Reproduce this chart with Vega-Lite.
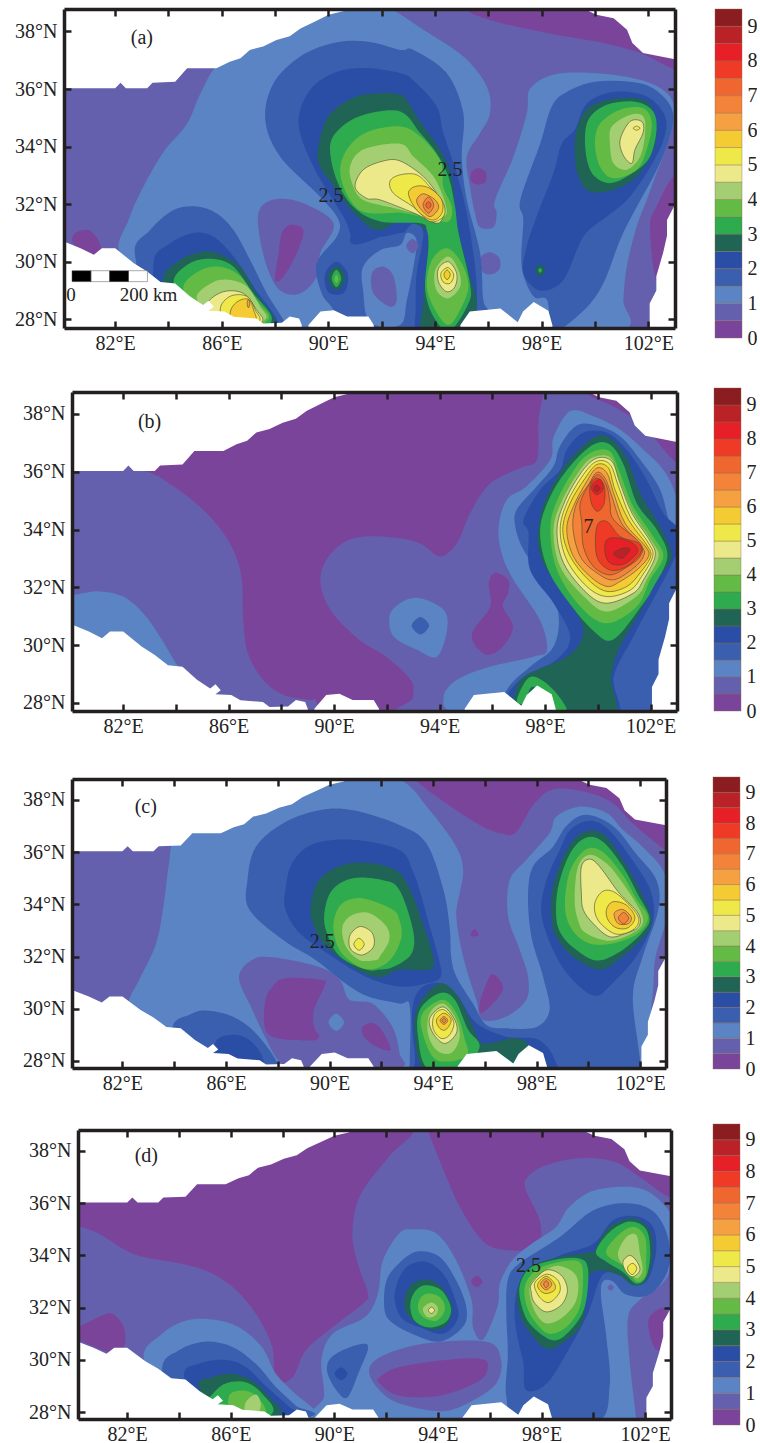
{"$schema":"https://vega.github.io/schema/vega-lite/v6.json","background":"white","padding":{"left":0,"top":7,"right":0,"bottom":0},"bounds":"full","spacing":0,
"config":{"view":{"stroke":null},"range":{"ordinal":["#7a449b","#6560ad","#5a84c4","#3a5fae","#2a4ea5","#1f6455","#2eab4e","#63bb46","#a3cf72","#ece98b","#eee848","#f5cb33","#f5a142","#f4833a","#f0662f","#ef3b26","#e71f26","#bb2227","#8b1c20"]},"axis":{"grid":false,"title":null,"domainColor":"#231f20","domainWidth":3.5,"tickColor":"#231f20","tickWidth":2.5,"tickSize":-7,"labelFont":"Liberation Serif","labelFontSize":20,"labelColor":"#222222","labelPadding":14,"labelBound":false,"labelFlush":false,"labelOverlap":false}},
"datasets":{
"mask":[
{"id":"nw","p":[[79,36.03],[80.1,36.03],[82,36.03],[82.2,36.22],[82.4,36.03],[83.2,36.03],[83.4,36.22],[84.25,36.25],[84.7,36.72],[85.8,36.72],[86.3,36.95],[86.7,37.07],[87.05,37.36],[87.55,37.48],[88.05,37.7],[88.55,37.83],[88.95,38.1],[89.5,38.35],[90,38.58],[90.55,38.7],[90.7,38.8],[90.7,39.5],[79,39.5]]},
{"id":"sw","p":[[79,30.8],[80.1,30.7],[80.7,30.47],[81.2,30.24],[81.5,30.47],[82,30.47],[82.7,29.95],[83.2,29.66],[83.7,29.3],[84.25,29.25],[84.8,28.8],[85.3,28.5],[85.5,28.65],[85.7,28.44],[85.5,28.3],[86.1,28.27],[86.45,28.09],[87.3,28.03],[87.55,27.86],[88.25,27.88],[88.55,28.1],[88.9,28.03],[89,27.8],[89,27],[79,27]]},
{"id":"h2","p":[[89.25,27.8],[89.7,28.27],[90.2,28.32],[90.7,28.1],[91.5,28.1],[91.7,27.8],[91.7,27],[89.25,27]]},
{"id":"h3","p":[[94.95,27.8],[95.3,28.27],[96.45,28.38],[97.1,27.9],[97.3,28.27],[97.7,28.6],[98.25,28.3],[98.4,27.8],[98.4,27],[94.95,27]]},
{"id":"ne","p":[[99.55,38.8],[100.05,38.58],[100.7,38.46],[101.2,38.06],[101.4,37.6],[101.8,37.25],[102.95,37.04],[104,37],[104,39.5],[99.55,39.5]]},
{"id":"e","p":[[104,31.9],[102.95,31.9],[102.7,31.45],[102.7,30.9],[102.55,30.3],[102.3,29.5],[102.3,29],[102.05,28.55],[102.05,27],[104,27]]}],
"bands":[{"lv":0,"lo":0,"hi":0.5},{"lv":1,"lo":0.5,"hi":1},{"lv":2,"lo":1,"hi":1.5},{"lv":3,"lo":1.5,"hi":2},{"lv":4,"lo":2,"hi":2.5},{"lv":5,"lo":2.5,"hi":3},{"lv":6,"lo":3,"hi":3.5},{"lv":7,"lo":3.5,"hi":4},{"lv":8,"lo":4,"hi":4.5},{"lv":9,"lo":4.5,"hi":5},{"lv":10,"lo":5,"hi":5.5},{"lv":11,"lo":5.5,"hi":6},{"lv":12,"lo":6,"hi":6.5},{"lv":13,"lo":6.5,"hi":7},{"lv":14,"lo":7,"hi":7.5},{"lv":15,"lo":7.5,"hi":8},{"lv":16,"lo":8,"hi":8.5},{"lv":17,"lo":8.5,"hi":9},{"lv":18,"lo":9,"hi":9.5}],
"a":[
{"id":1,"lv":1,"p":[[79,40],[104,40],[104,27],[79,27]]},
{"id":2,"lv":0,"p":[[95.05,38.85],[96.05,38.4],[98.2,37.95],[100.05,37.65],[101.7,37.25],[102.95,36.7],[103.8,36.7],[104,39.5],[95,39.5]]},
{"id":3,"lv":0,"p":[[80.5,31],[81,31.1],[81.4,30.7],[81.5,30.2],[81.2,30.1],[80.7,30.4],[80.4,30.7]]},
{"id":4,"lv":0,"p":[[103,33],[102.3,31.9],[102.06,31.2],[102.3,29.37],[102.69,30.76],[103,31.7],[103.5,32.3]]},
{"id":5,"lv":2,"p":[[85.8,36.8],[86.7,37.2],[88,37.8],[89.5,38.5],[91,39.2],[92.3,38.8],[93.56,38.06],[95.06,37.13],[95.94,36.09],[96.06,35.16],[95.69,34.47],[95.19,33.65],[95.31,32.6],[95.5,31.68],[95.69,31.2],[96.19,31.2],[96.31,31.68],[96.25,32.15],[96.94,33.65],[97.44,35.16],[97.56,36],[98.44,36.5],[100.06,36.55],[101.69,36.32],[102.69,35.86],[103,35.16],[102.69,34],[102.31,33.08],[101.94,32.15],[101.56,31.22],[101.19,29.83],[101.06,28.67],[101,27.6],[96.5,27.2],[89,27.2],[84,28.5],[82.2,30.2],[82.5,31.45],[83.05,32.6],[83.8,33.8],[84.7,34.8],[85.2,35.85]]},
{"id":6,"lv":1,"p":[[88.06,32.18],[89.06,32.03],[90.19,31.33],[89.69,30.3],[89.56,29.48],[88.94,28.9],[88.19,29],[87.69,29.83],[87.38,31.1],[87.44,31.86]]},
{"id":7,"lv":0,"p":[[88.56,31.28],[89.06,31.1],[88.81,30.3],[88.31,29.48],[88,29.37],[88.13,30.3],[88.25,31]]},
{"id":8,"lv":0,"p":[[95.63,33.25],[95.9,33.1],[95.9,32.8],[95.63,32.68],[95.36,32.8],[95.36,33.1]]},
{"id":9,"lv":1,"p":[[96.06,30.33],[96.4,30.15],[96.44,29.8],[96.2,29.58],[95.85,29.6],[95.68,29.9],[95.75,30.2]]},
{"id":10,"lv":3,"p":[[87.63,34.93],[87.94,36.2],[88.94,37.13],[90.19,37.6],[91.44,37.65],[92.69,37.36],[93.19,37.36],[94.44,36.55],[95.06,35.16],[95,33.65],[95.19,32.15],[95.69,30.3],[95.81,28.67],[96.06,28.2],[96,27.3],[90.5,27.3],[90.2,28.3],[89.75,28.9],[89.56,29.95],[90.31,30.87],[90.38,31.45],[89.69,32.26],[88.19,33.65]]},
{"id":11,"lv":4,"p":[[88.88,34.81],[89.31,35.97],[90.31,36.6],[91.44,36.73],[92.69,36.55],[93.19,36.3],[94.06,35.4],[94.31,34.47],[94.81,33.08],[95.19,31.68],[95.5,29.83],[95.56,28.44],[95.3,27.5],[93.2,27.5],[93.3,29.5],[93.5,30.9],[92.7,31],[91,30.6],[90.81,31],[90.56,31.57],[89.44,33.3]]},
{"id":12,"lv":3,"p":[[90.94,30.18],[91.81,30.82],[92.69,30.93],[93.19,31.34],[93.56,31],[93.3,29.8],[93.25,28],[93,27.3],[91,27.3],[90.94,28]]},
{"id":13,"lv":2,"p":[[91.3,29.83],[91.94,30.4],[92.69,30.58],[92.94,31],[93.3,30.76],[93.19,29.83],[92.94,28.67],[92.69,27.8],[91.56,27.9],[91.3,29]]},
{"id":14,"lv":1,"p":[[91.63,29.6],[92.06,29.83],[92.44,29.5],[92.56,28.67],[92.3,28.44],[91.69,28.9]]},
{"id":15,"lv":1,"p":[[93.15,30.8],[93.38,30.55],[93.15,30.3],[92.92,30.55]]},
{"id":16,"lv":4,"p":[[90.3,30],[90.72,29.6],[90.65,29],[90.3,28.85],[89.95,29],[89.88,29.6]]},
{"id":17,"lv":5,"p":[[90.3,29.85],[90.63,29.45],[90.3,29],[89.97,29.45]]},
{"id":18,"lv":6,"p":[[90.3,29.72],[90.48,29.42],[90.3,29.12],[90.12,29.42]]},
{"id":19,"lv":7,"p":[[90.3,29.55],[90.38,29.4],[90.3,29.25],[90.22,29.4]]},
{"id":20,"lv":5,"p":[[89.63,34],[90,35.05],[90.94,35.7],[92.06,35.86],[92.69,35.8],[92.94,35.6],[93.56,34.7],[94.19,33.9],[94.63,32.96],[94.75,31.9],[94.88,31],[95.31,29.5],[95.56,28.44],[95,27.6],[93.56,27.6],[93.56,28.67],[93.75,30.76],[93.56,31.2],[92.69,31.4],[91.81,31.1],[90.94,31.7],[90.31,32.5],[89.69,33.3]]},
{"id":21,"lv":6,"p":[[90.06,34],[90.44,34.64],[91.31,35.1],[92.69,35.22],[93.44,34.47],[94.06,33.77],[94.5,32.96],[94.75,31.9],[94.88,31],[95.31,29.25],[95.25,28.55],[94.56,27.6],[94,28],[93.63,29],[93.75,30.5],[93.69,31.1],[93.44,31.34],[91.94,31.4],[90.94,31.9],[90.31,32.84]]},
{"id":22,"lv":7,"p":[[90.44,33.08],[90.69,33.9],[91.44,34.5],[92.69,34.7],[93.44,34.35],[94.2,33.5],[94.31,32.6],[94.63,31.9],[94.5,31.4],[93.8,31.5],[92.69,31.7],[91.44,31.7],[90.81,32.15]]},
{"id":23,"lv":8,"p":[[90.81,33.3],[91.31,33.9],[92.69,34.1],[93.19,33.65],[93.94,32.96],[94.38,32.03],[94.31,31.57],[93.19,31.7],[92.3,31.9],[91.31,32.15],[90.94,32.6]]},
{"id":24,"lv":9,"p":[[91,32.6],[91.31,33.2],[92.06,33.5],[92.69,33.5],[93.56,32.96],[94.13,32.26],[94.31,31.68],[94.06,31.34],[93.19,31.7],[91.94,32.15],[91.44,32.2]]},
{"id":25,"lv":10,"p":[[92.31,32.8],[92.69,33.02],[93.31,33.02],[93.81,32.6],[94.31,32.03],[94.31,31.57],[93.81,31.4],[93.19,31.9],[92.44,32.38]]},
{"id":26,"lv":11,"p":[[93,32.38],[93.31,32.63],[93.81,32.55],[94.25,32.15],[94.25,31.68],[93.88,31.45],[93.31,31.8]]},
{"id":27,"lv":12,"p":[[93.31,32.15],[93.56,32.36],[94,32.15],[94.13,31.86],[93.81,31.57],[93.44,31.86]]},
{"id":28,"lv":13,"p":[[93.75,32.25],[93.95,31.97],[93.75,31.69],[93.55,31.97]]},
{"id":29,"lv":14,"p":[[93.75,32.09],[93.85,31.97],[93.75,31.85],[93.65,31.97]]},
{"id":30,"lv":7,"p":[[94.44,30.47],[95,29.95],[95.25,29.14],[94.94,28.33],[94.5,27.8],[94,28.33],[93.69,29.14],[93.88,30.06]]},
{"id":31,"lv":8,"p":[[94.5,30.18],[94.88,29.7],[94.94,29.14],[94.5,28.73],[94.06,29],[94,29.7]]},
{"id":32,"lv":9,"p":[[94.5,30],[94.81,29.6],[94.75,29.14],[94.44,28.96],[94.13,29.3],[94.13,29.77]]},
{"id":33,"lv":10,"p":[[94.48,29.8],[94.7,29.54],[94.56,29.25],[94.3,29.3],[94.22,29.6]]},
{"id":34,"lv":11,"p":[[94.45,29.72],[94.57,29.55],[94.45,29.38],[94.33,29.55]]},
{"id":35,"lv":3,"p":[[82.75,30.18],[83.31,31.1],[84.19,31.8],[85.06,31.92],[85.81,31.68],[86.44,31.1],[87.06,30.06],[87.69,28.9],[88.3,28],[88.5,27.5],[84,27.5]]},
{"id":36,"lv":4,"p":[[83.44,29.95],[84.06,30.64],[84.94,31],[85.69,30.87],[86.44,30.18],[87.19,29.14],[88.06,28],[88,27.5],[84,28]]},
{"id":37,"lv":5,"p":[[83.8,29.37],[84.44,30.06],[85.19,30.33],[85.81,30.3],[86.69,29.83],[87.3,28.9],[88,27.9],[87,27.5],[84.5,28]]},
{"id":38,"lv":6,"p":[[84.19,29.25],[84.8,29.95],[85.69,30.1],[86.44,29.83],[87.19,28.9],[87.88,28],[87,27.5],[85,28]]},
{"id":39,"lv":7,"p":[[84.56,29.14],[85.19,29.7],[85.94,29.83],[86.69,29.5],[87.3,28.67],[87.75,28],[86.5,27.5],[85,28.3]]},
{"id":40,"lv":8,"p":[[85.06,28.8],[85.69,29.3],[86.31,29.37],[86.94,29.14],[87.44,28.44],[87.63,28],[86.5,27.5],[85.5,28.2]]},
{"id":41,"lv":9,"p":[[85.44,28.55],[86.06,28.96],[86.81,28.9],[87.3,28.33],[87.5,27.9],[86.5,27.5],[85.5,28]]},
{"id":42,"lv":10,"p":[[85.94,28.33],[86.31,28.8],[86.94,28.8],[87.25,28.33],[87.38,27.9],[86.3,27.5]]},
{"id":43,"lv":11,"p":[[86.31,28.2],[86.56,28.6],[87,28.7],[87.19,28.33],[87.25,27.9],[86.5,27.5]]},
{"id":44,"lv":12,"p":[[87,28.7],[87.05,28.55],[87,28.4],[86.95,28.55]]},
{"id":45,"lv":3,"p":[[98.38,35.4],[98.94,35.9],[100.06,36.26],[101.69,36.2],[102.56,35.74],[102.94,35.05],[102.69,34],[102.19,32.96],[101.56,31.9],[100.94,30.76],[100.31,29.25],[99.56,28.3],[98.44,27.6],[98.2,28.67],[97.69,28.8],[97.25,29.83],[97.31,31.45],[97.2,32.15],[97.94,34.1]]},
{"id":46,"lv":4,"p":[[99.25,34.6],[99.69,35.5],[100.69,35.9],[101.94,35.74],[102.63,35.05],[102.56,34.2],[101.94,33.08],[101.2,32.15],[100.44,31.57],[99.56,30.87],[98.81,29.37],[97.94,29],[97.31,29.6],[97.44,30.53],[97.81,31.57],[98.44,33.08],[98.75,34.1]]},
{"id":47,"lv":5,"p":[[97.94,29.9],[98.12,29.7],[97.94,29.5],[97.76,29.7]]},
{"id":48,"lv":6,"p":[[97.94,29.78],[98.01,29.7],[97.94,29.62],[97.87,29.7]]},
{"id":49,"lv":5,"p":[[99.25,33.65],[99.31,34.58],[99.81,35.4],[100.94,35.68],[101.94,35.57],[102.31,34.8],[102.19,33.9],[101.56,32.96],[100.69,32.5],[99.81,32.44],[99.38,32.96]]},
{"id":50,"lv":6,"p":[[99.63,34],[99.75,34.93],[100.44,35.45],[101.44,35.57],[102.13,35.28],[102.31,34.64],[102.06,33.65],[101.44,33.1],[100.56,32.73],[99.88,33.08]]},
{"id":51,"lv":7,"p":[[100,34.1],[100.19,34.8],[100.94,35.28],[101.81,35.33],[102.13,34.8],[101.94,33.9],[101.56,33.2],[100.69,32.9],[100.19,33.3]]},
{"id":52,"lv":8,"p":[[100.56,34.1],[100.63,34.7],[101.31,35.1],[101.81,35.05],[101.88,34.47],[101.69,33.65],[101.19,33.2],[100.69,33.42]]},
{"id":53,"lv":9,"p":[[100.94,34.23],[101.31,34.87],[101.75,34.87],[101.81,34.5],[101.5,33.9],[101.38,33.42],[101.06,33.7]]},
{"id":54,"lv":10,"p":[[101.56,34.71],[101.69,34.64],[101.56,34.57],[101.43,34.64]]}],
"b":[
{"id":1,"lv":0,"p":[[79,40],[104,40],[104,27],[79,27]]},
{"id":2,"lv":1,"p":[[79.5,36.5],[82.63,36.07],[83.9,35.5],[85.16,34.57],[86.04,33.53],[86.48,32.38],[86.55,30.87],[86.73,29.72],[87.3,28.8],[88.06,28.28],[89.07,28.1],[89.3,28.1],[89,27.3],[84,27.3],[79.5,27.3]]},
{"id":3,"lv":2,"p":[[80.13,31.74],[81.1,31.86],[82,31.68],[82.76,31.1],[83.39,30.3],[84,29.37],[84.4,28.8],[83,28],[79.5,29],[79.5,31.7]]},
{"id":4,"lv":1,"p":[[91.2,33.76],[92.48,33.7],[93.3,33.5],[94.03,33.07],[94.66,33.53],[95.16,34.57],[95.92,35.6],[97.06,36.13],[97.69,36.42],[97.75,37.8],[97.94,38.73],[98,39.5],[99.6,39.5],[99.64,38.7],[100.5,38.3],[101.4,37.8],[102.1,37.2],[103,36.3],[104,36],[104,27],[92.9,27.3],[93,28.2],[92.9,28.8],[91.97,29.6],[90.96,30.18],[89.95,31.1],[89.5,32.03],[89.64,32.84],[90.33,33.53]]},
{"id":5,"lv":0,"p":[[96.1,32.5],[96.6,32.26],[96.6,31.8],[96.4,31.34],[96.78,30.64],[96.4,29.95],[95.8,29.66],[95.29,30.07],[95.29,30.53],[95.92,31.34],[95.86,32.14]]},
{"id":6,"lv":2,"p":[[93.2,31.63],[94.15,31.22],[94.28,30.53],[93.9,29.6],[93.14,29.84],[92.26,30.3],[92.1,31],[92.5,31.45]]},
{"id":7,"lv":3,"p":[[93.27,30.97],[93.6,30.67],[93.27,30.37],[92.94,30.67]]},
{"id":8,"lv":2,"p":[[98.32,37.2],[98.95,38.1],[99.83,37.92],[100.84,37.46],[101.73,36.76],[102.48,36.07],[102.93,35.26],[103.3,34],[103.3,31],[103,27],[98,27],[94.66,27.6],[94.15,28.2],[94.66,28.8],[95.9,29.25],[97.56,29.6],[98.07,29.84],[97.8,30.87],[96.8,32.26],[96.35,33.18],[96.24,34.1],[96.55,35.03],[97.3,35.5],[98.2,36.42]]},
{"id":9,"lv":3,"p":[[98.57,36.9],[99.2,37.6],[99.96,37.6],[100.84,37.23],[101.6,36.42],[102.36,35.38],[102.74,34.2],[103.2,33.8],[103.2,31.1],[103,27],[96,27],[96.55,28.45],[97.43,29.25],[98.32,29.95],[98.5,31.1],[97.94,32.26],[97.18,33.3],[96.87,34.1],[96.93,34.7],[97.69,35.5],[98.32,36.2]]},
{"id":10,"lv":4,"p":[[98.82,36.76],[99.45,37.35],[100.34,37.35],[101.1,36.76],[101.85,35.72],[102.48,34.57],[103.2,33.8],[102.74,32.7],[102.23,31.8],[101.35,30.3],[100.6,28.9],[100.6,27.4],[96.8,27.4],[96.55,28.2],[97.2,28.9],[98.44,29.5],[98.95,30.3],[98.32,31.45],[97.43,32.6],[97.37,33.9],[97.18,34.34],[97.81,35.38],[98.57,36.07]]},
{"id":11,"lv":5,"p":[[97.75,34],[98,35],[98.82,36.3],[99.83,37.17],[100.46,37.17],[101.1,36.48],[101.6,35.26],[102.36,34.1],[102.8,33.07],[102.23,32.26],[101.73,31.34],[100.84,29.95],[100.5,28.9],[100.46,27.4],[96.8,27.4],[96.8,28.1],[97.18,28.9],[98.83,29.6],[99.45,30.4],[99.07,31.3],[98.07,32.6],[97.75,33.4]]},
{"id":12,"lv":6,"p":[[96.93,28.1],[97.3,28.8],[97.69,28.88],[98.32,28.45],[98.82,27.75],[98.3,27.6],[97.94,28.2],[97.5,28.56],[97.2,28]]},
{"id":13,"lv":6,"p":[[97.81,34],[98.2,35.15],[98.95,36.2],[99.83,36.94],[100.46,36.94],[100.97,36.25],[101.48,34.9],[102.23,34],[102.64,33.07],[102.1,32],[101.73,31.45],[100.6,30.2],[99.83,30.5],[98.82,31.57],[98.07,32.7]]},
{"id":14,"lv":7,"p":[[98.2,34],[98.45,35],[99.2,36.2],[99.83,36.7],[100.46,36.7],[100.84,35.95],[101.34,34.8],[102.1,33.76],[102.48,33.07],[101.98,32.26],[101.48,31.34],[100.34,30.76],[99.33,31.34],[98.45,32.6]]},
{"id":15,"lv":8,"p":[[98.32,34],[98.64,35],[99.33,36.07],[99.83,36.5],[100.46,36.5],[100.78,35.8],[101.29,34.66],[102.04,33.6],[102.3,33.07],[101.85,32.26],[101.48,31.7],[100.34,31.16],[99.45,31.7],[98.57,32.72]]},
{"id":16,"lv":9,"p":[[98.45,34],[98.76,35],[99.39,36],[99.96,36.47],[100.53,36.36],[100.84,35.6],[101.29,34.57],[101.98,33.6],[102.17,33.07],[101.73,32.26],[101.35,31.8],[100.34,31.45],[99.58,31.8],[98.7,32.84]]},
{"id":17,"lv":10,"p":[[98.57,34],[98.83,34.92],[99.45,35.9],[99.96,36.36],[100.46,36.25],[100.78,35.5],[101.22,34.46],[101.92,33.53],[102.08,33.07],[101.66,32.38],[101.22,31.9],[100.34,31.68],[99.58,32.03],[98.82,32.95]]},
{"id":18,"lv":11,"p":[[98.67,34],[98.95,34.92],[99.52,35.78],[99.96,36.25],[100.4,36.13],[100.65,35.38],[101.16,34.34],[101.85,33.47],[102,33.07],[101.6,32.5],[101.1,32.03],[100.34,31.86],[99.64,32.26],[98.95,33.07]]},
{"id":19,"lv":12,"p":[[98.82,34],[99.07,34.8],[99.58,35.67],[99.96,36.13],[100.34,35.96],[100.6,35.26],[101.03,34.22],[101.8,33.42],[101.92,33.07],[101.48,32.6],[100.84,32.2],[100.34,32.03],[99.7,32.38],[99.07,33.07]]},
{"id":20,"lv":13,"p":[[99.05,34.1],[99.2,34.92],[99.64,35.55],[99.96,35.98],[100.27,35.78],[100.53,35.15],[100.9,34.22],[101.66,33.42],[101.73,33.07],[101.35,32.66],[100.6,32.26],[99.96,32.5],[99.33,33.07]]},
{"id":21,"lv":14,"p":[[99.39,34.22],[99.33,34.92],[99.7,35.6],[100.02,35.9],[100.34,35.5],[100.46,34.92],[100.6,34.34],[101.6,33.53],[101.6,33.07],[101.1,32.7],[100.46,32.43],[99.83,32.72],[99.45,33.4]]},
{"id":22,"lv":15,"p":[[99.7,35.5],[99.96,35.78],[100.24,35.5],[100.24,34.92],[99.99,34.63],[99.75,34.92]]},
{"id":23,"lv":15,"p":[[99.96,34.1],[100.34,34.28],[100.84,33.76],[101.54,33.53],[101.62,33.18],[101.1,32.72],[100.46,32.6],[99.96,33.07]]},
{"id":24,"lv":16,"p":[[100.34,33.65],[100.84,33.7],[101.41,33.47],[101.48,33.18],[100.97,32.8],[100.46,32.84],[100.27,33.2]]},
{"id":25,"lv":16,"p":[[99.83,35.6],[100.1,35.73],[100.2,35.4],[99.96,35.2],[99.76,35.4]]},
{"id":26,"lv":17,"p":[[100.6,33.18],[100.97,33.36],[101.22,33.3],[100.9,33]]},
{"id":27,"lv":17,"p":[[99.96,35.55],[100.08,35.42],[99.96,35.3],[99.84,35.42]]}],
"c":[
{"id":1,"lv":1,"p":[[79,40],[104,40],[104,27],[79,27]]},
{"id":2,"lv":0,"p":[[93.23,38.85],[94.5,37.87],[95.8,37.04],[96.6,36.72],[97.2,36.75],[97.87,37.8],[98.63,38.4],[99.92,38.3],[100.95,37.87],[101.72,37.1],[102.94,36.1],[103.8,35.6],[104,39.5],[93,39.5]]},
{"id":3,"lv":2,"p":[[84.06,36.5],[85.5,37.5],[88,38.5],[90.6,39.2],[92.7,38.8],[93.87,37.6],[94.9,36.2],[95.16,35.3],[95.03,34.43],[94.9,33.53],[95.16,32],[95.67,30.34],[95.93,29.57],[96.83,29.7],[97.6,30.34],[97.67,31.23],[97.35,32.25],[96.9,33.53],[96.96,34.93],[97.6,35.7],[98.5,36.72],[98.76,37.36],[99.66,37.74],[100.7,37.5],[101.34,36.85],[102.1,36.2],[102.94,35.2],[103.1,33.8],[102.6,32],[102.5,30.7],[102.2,27.9],[102.1,27],[85,27],[82.4,29.96],[82.26,30.34],[82.64,31.1],[83.3,32.5],[83.6,34.04],[83.8,35.57]]},
{"id":4,"lv":0,"p":[[95.6,33.05],[95.75,32.8],[95.45,32.8]]},
{"id":5,"lv":0,"p":[[96.32,31.33],[96.7,30.85],[96.45,30.34],[95.87,29.83],[95.8,30.2],[96.06,30.97]]},
{"id":6,"lv":1,"p":[[102.63,31.6],[103.2,32],[103.2,30.9],[102.63,30.85]]},
{"id":7,"lv":1,"p":[[86.5,31.2],[87,31.87],[87.8,31.97],[89.6,31.6],[90.4,31.1],[90.77,30.34],[91.66,30.2],[92.43,29.3],[92.7,28.3],[92.6,27.7],[88.84,27.6],[88.05,28],[87.5,28.94],[87,30]]},
{"id":8,"lv":0,"p":[[88.3,31.17],[89.72,31.1],[89.8,30.85],[89.4,29.96],[89.4,29.3],[89.6,28.93],[89.2,28.78],[87.66,29],[87.5,30.2],[87.8,30.85]]},
{"id":9,"lv":2,"p":[[90.26,29.81],[90.56,29.48],[90.26,29.15],[89.96,29.48]]},
{"id":10,"lv":0,"p":[[91.65,29.45],[92,29.2],[92.36,28.43],[91.8,28.55],[91.33,28.93],[91.27,29.3]]},
{"id":11,"lv":3,"p":[[86.83,34.93],[87.15,36.2],[88.2,37.1],[89.6,37.6],[90.9,37.6],[92.7,37.04],[93.74,36.34],[94.39,34.6],[94.64,33.15],[94.7,32],[94.9,31.23],[95.54,30.2],[96.06,29.38],[96.83,29.25],[98,29.3],[98.5,29.96],[98.25,31.23],[97.8,32.76],[97.67,34.3],[97.86,35.45],[98.63,36.2],[99.15,37],[99.9,37.43],[100.95,37],[101.85,35.93],[102.63,34.93],[102.7,33.78],[102.1,32],[101.72,30.46],[102,28],[102,27],[93.1,27],[93.1,27.9],[93.1,30.1],[92.7,30.2],[91.52,30.46],[90.62,30.97],[89.46,31.87],[88.2,32.64],[86.9,33.8]]},
{"id":12,"lv":3,"p":[[83.93,29.3],[84.6,29.77],[85.2,29.93],[86.26,29.7],[87.15,29.06],[87.92,28.04],[88,27.5],[84,27.5]]},
{"id":13,"lv":4,"p":[[85.6,28.74],[86.26,29],[86.9,28.8],[87.4,28.17],[87.3,27.6],[85.6,27.7]]},
{"id":14,"lv":4,"p":[[88.3,34.55],[88.55,35.57],[89.35,36.3],[90.9,36.47],[92.7,36.08],[93.2,35.3],[93.48,34.55],[93.8,33.4],[94.2,32],[94.3,31.23],[93.74,30.97],[92.7,30.85],[91.4,31.23],[90.1,32],[88.84,32.9],[88.3,33.8]]},
{"id":15,"lv":4,"p":[[93.6,30.85],[94.38,30.97],[94.97,30.46],[95.67,29.45],[96.83,28.93],[98.1,28.8],[98.76,27.9],[98.7,27],[93,27],[93.3,27.9],[93.2,29.2],[93.23,30.2]]},
{"id":16,"lv":4,"p":[[98.2,33.53],[98.34,34.8],[98.9,36.1],[99.3,36.85],[100.05,37.2],[100.8,36.85],[101.7,35.7],[102.4,34.53],[102.5,33.36],[101.85,32],[100.95,31],[100.3,30.5],[99.5,31],[98.76,32]]},
{"id":17,"lv":5,"p":[[89.27,33.9],[89.6,34.93],[90.5,35.5],[91.66,35.57],[92.7,35.2],[93.23,34.3],[93.6,33.27],[94,32],[93.87,31.5],[92.7,31.5],[91.9,31.2],[90.9,31.6],[89.87,32.38],[89.4,33.15]]},
{"id":18,"lv":6,"p":[[89.8,33.66],[90.1,34.55],[90.9,35],[92.04,34.93],[92.7,34.55],[93.23,33],[93.16,32.1],[92.45,31.6],[91.94,31.5],[91.4,31.5],[90.4,32],[89.9,32.9]]},
{"id":19,"lv":7,"p":[[90.17,33.4],[90.5,34.04],[91.27,34.23],[92.43,33.8],[92.7,33.4],[92.78,32.76],[92.45,32],[91.94,31.6],[91.27,31.55],[90.5,32.1],[90.2,32.76]]},
{"id":20,"lv":8,"p":[[90.5,33.15],[90.9,33.6],[91.55,33.66],[92.2,33.15],[92.3,32.6],[91.94,32],[91.8,31.87],[91.15,31.87],[90.63,32.38]]},
{"id":21,"lv":9,"p":[[90.84,32.9],[91.2,33.15],[91.65,32.9],[91.7,32.38],[91.27,32.06],[90.84,32.25],[90.75,32.6]]},
{"id":22,"lv":10,"p":[[91.14,32.7],[91.34,32.47],[91.14,32.24],[90.94,32.47]]},
{"id":23,"lv":5,"p":[[94.38,30.97],[94.97,30.46],[95.55,29.3],[95.93,28.67],[97.1,28.87],[97.66,28.6],[97.2,27.7],[95.4,27.5],[93.67,27.7],[93.3,28.9],[93.36,29.96],[93.87,30.7]]},
{"id":24,"lv":6,"p":[[94.26,30.6],[94.84,30.34],[95.35,29.2],[95.8,28.55],[95.16,27.7],[93.8,27.7],[93.42,28.93],[93.49,29.96]]},
{"id":25,"lv":7,"p":[[94.38,30.34],[94.9,29.83],[95.2,28.93],[95.28,28.17],[94.13,28.04],[93.6,29.06],[93.6,29.83]]},
{"id":26,"lv":8,"p":[[94.38,30.2],[94.84,29.7],[95.03,28.93],[94.7,28.3],[94.13,28.42],[93.8,29.06],[93.87,29.83]]},
{"id":27,"lv":9,"p":[[94.38,30.07],[94.84,29.57],[94.9,29.06],[94.45,28.67],[94,29.06],[93.87,29.63]]},
{"id":28,"lv":10,"p":[[94.42,29.96],[94.8,29.5],[94.64,29],[94.3,28.87],[94,29.25],[94.05,29.77]]},
{"id":29,"lv":11,"p":[[94.42,29.83],[94.7,29.57],[94.5,29.2],[94.26,29.25],[94.13,29.57]]},
{"id":30,"lv":12,"p":[[94.42,29.7],[94.57,29.55],[94.42,29.4],[94.27,29.55]]},
{"id":31,"lv":13,"p":[[94.42,29.63],[94.5,29.55],[94.42,29.47],[94.34,29.55]]},
{"id":32,"lv":5,"p":[[98.57,33.5],[98.63,34.65],[99.15,36.05],[99.8,36.75],[100.56,36.7],[101.34,35.7],[102,34.53],[102.43,33.5],[102.24,32.87],[101.33,32],[100.44,31.5],[99.4,32],[98.76,32.76]]},
{"id":33,"lv":6,"p":[[98.76,33.5],[98.83,34.65],[99.28,35.93],[99.9,36.55],[100.56,36.4],[101.34,35.44],[101.9,34.4],[102.36,33.5],[102.1,32.93],[101.2,32.17],[100.3,31.85],[99.4,32.36],[98.94,32.87]]},
{"id":34,"lv":7,"p":[[99.1,33.85],[99.28,35.25],[99.9,36.1],[100.56,36],[101.34,35.1],[101.85,34.2],[102.3,33.5],[101.9,32.87],[100.95,32.5],[100.05,32.5],[99.4,33]]},
{"id":35,"lv":8,"p":[[99.47,34.2],[99.6,35.44],[100.05,35.9],[100.7,35.57],[101.34,34.8],[101.98,33.8],[102.1,33.27],[101.72,32.9],[100.82,32.6],[99.9,32.9],[99.6,33.4]]},
{"id":36,"lv":9,"p":[[99.73,34.42],[99.73,35.44],[100.05,35.73],[100.44,35.44],[101.2,34.42],[101.92,33.66],[101.95,33.15],[101.47,32.9],[100.82,32.76],[100.18,33.27],[99.8,33.8]]},
{"id":37,"lv":10,"p":[[100.24,34],[100.56,34.5],[101.08,34.42],[101.85,33.66],[101.9,33.2],[101.47,32.9],[100.95,32.9],[100.37,33.4]]},
{"id":38,"lv":11,"p":[[100.7,33.8],[100.95,34.1],[101.47,33.97],[101.8,33.5],[101.53,33.1],[101.08,33.1],[100.76,33.4]]},
{"id":39,"lv":12,"p":[[101,33.66],[101.34,33.8],[101.66,33.5],[101.53,33.25],[101.14,33.27]]},
{"id":40,"lv":13,"p":[[101.36,33.69],[101.56,33.47],[101.36,33.25],[101.16,33.47]]}],
"d":[
{"id":1,"lv":0,"p":[[79,40],[104,40],[104,27],[79,27]]},
{"id":2,"lv":1,"p":[[79.5,35.3],[80.13,35.12],[80.9,34.84],[81.94,34.2],[82.7,33.92],[83.74,33.75],[85,33.43],[86.06,32.8],[86.97,31.77],[87.6,30.5],[87.74,29.2],[88.39,29.34],[88.9,30.37],[89.94,31.26],[91.1,32.15],[91.3,32.54],[90.9,33.7],[90.7,34.84],[90.97,36.25],[92,37.65],[92.5,38.17],[93.03,38.68],[93.2,39.5],[93.55,38.9],[94.2,37.3],[94.84,35.86],[95.6,34.7],[96.25,34.27],[97.4,34.2],[97.93,34.5],[97.93,35.35],[97.4,36.5],[97.46,37],[98.2,37.46],[99.47,37.72],[100.76,37.6],[101.8,37],[102.9,36.25],[103.8,36.25],[103.8,27],[79.5,27]]},
{"id":3,"lv":0,"p":[[80.13,31.26],[80.9,31.64],[81.42,31.77],[81.87,31.26],[81.87,30.5],[81.3,30.3],[80.13,30.75],[79.5,31]]},
{"id":4,"lv":0,"p":[[102.17,31.64],[102.8,31.96],[102.95,30.88],[102.5,30.37],[102.2,30.88]]},
{"id":5,"lv":0,"p":[[95.5,33.22],[95.72,33],[95.5,32.78],[95.28,33]]},
{"id":6,"lv":2,"p":[[82.65,29.98],[83.35,31],[84.26,31.5],[85.3,31.55],[86.3,31.26],[87.2,30.5],[87.74,29.47],[88.5,28.7],[89.3,28],[89.3,27.3],[84,27.5]]},
{"id":7,"lv":2,"p":[[92.5,34.84],[93.03,35],[93.94,34.84],[94.7,33.82],[95.3,32.28],[95.35,31.26],[95.74,30.78],[96.3,32.05],[96.4,32.95],[96.9,33.85],[97.7,34.5],[98.57,35.1],[99.08,35.86],[100.1,36.5],[101.78,36.57],[102.8,35.86],[103.1,35],[102.87,33.2],[101.8,32.3],[101.34,31.64],[101.4,30],[101.65,27.8],[101.7,27],[89.3,27],[89.6,28.6],[89.5,30],[89.94,31],[91.2,31.65],[91.68,32.54],[91.87,33.8]]},
{"id":8,"lv":1,"p":[[91.35,29.47],[91.75,30.1],[93.42,30.62],[95.87,30.7],[96.44,30],[96.25,29.1],[95.35,28.45],[94.3,28.05],[93,28.2],[92,28.6]]},
{"id":9,"lv":0,"p":[[91.75,29.34],[92.5,29.73],[94.3,30],[95.6,30.05],[95.93,29.8],[95.6,29.2],[94.06,28.63],[92.5,28.63],[91.75,29.1]]},
{"id":10,"lv":3,"p":[[93.2,34.15],[94.06,33.95],[94.7,33.05],[95.1,32],[94.96,31.26],[94.06,30.7],[93,31],[92.26,31.4],[91.94,31.9],[92,33],[92.5,33.7]]},
{"id":11,"lv":4,"p":[[92.84,33.6],[93.55,33.75],[94.2,33.3],[94.64,32.4],[94.77,31.6],[94.2,31],[93.3,31.25],[92.6,31.6],[92.33,32.3],[92.45,33]]},
{"id":12,"lv":5,"p":[[93.42,33.07],[94,32.92],[94.4,32.4],[94.55,31.9],[94.26,31.26],[93.55,31.2],[92.9,31.64],[92.7,32.15],[92.9,32.8]]},
{"id":13,"lv":6,"p":[[93.5,32.86],[94.13,32.67],[94.5,32],[94.32,31.46],[93.68,31.24],[93.1,31.5],[92.93,32.1],[93.1,32.6]]},
{"id":14,"lv":7,"p":[[93.68,32.54],[94.13,32.35],[94.26,31.9],[93.94,31.5],[93.42,31.64],[93.23,32],[93.35,32.4]]},
{"id":15,"lv":8,"p":[[93.74,32.2],[94,32],[93.9,31.7],[93.6,31.64],[93.42,31.96]]},
{"id":16,"lv":9,"p":[[93.75,32.02],[93.87,31.9],[93.75,31.78],[93.63,31.9]]},
{"id":17,"lv":3,"p":[[91.1,30.62],[91.3,30.43],[90.97,29.6],[90.52,28.58],[90.13,28.77],[89.74,29.47],[89.8,30],[90.32,30.37]]},
{"id":18,"lv":4,"p":[[90.26,29.72],[90.51,29.47],[90.26,29.22],[90.01,29.47]]},
{"id":19,"lv":3,"p":[[83.35,29.6],[84,30.37],[85,30.7],[86.06,30.5],[86.97,29.85],[87.74,28.96],[88.5,28.26],[89,27.8],[84,27]]},
{"id":20,"lv":4,"p":[[84.2,29.34],[84.77,29.85],[85.8,30],[86.58,29.73],[87.35,29],[88.26,28.2],[88.65,27.8],[85,27]]},
{"id":21,"lv":5,"p":[[84.77,28.96],[85.3,29.34],[86.06,29.47],[86.84,29.2],[87.5,28.56],[87.87,27.87],[86,27]]},
{"id":22,"lv":6,"p":[[85.3,28.7],[85.8,29.1],[86.58,29.15],[87.22,28.7],[87.6,27.95],[86,27.3],[85,28.2]]},
{"id":23,"lv":7,"p":[[85.94,28.64],[86.45,28.83],[86.97,28.64],[87.35,28],[86.7,27.5],[86,27.87]]},
{"id":24,"lv":8,"p":[[86.58,28.38],[86.97,28.68],[87.16,28.32],[87.03,27.95],[86.58,27.95]]},
{"id":25,"lv":3,"p":[[96.7,33.07],[97.15,33.7],[98.7,34.7],[100,35.73],[101.27,36],[102.3,35.7],[102.88,34.7],[102.88,33.43],[102.17,32.5],[101.27,32.5],[100.76,33],[100.37,33],[100.3,32.4],[100.5,30.9],[100.63,29],[100.1,27.6],[97.15,27.7],[96.64,28.6],[96.7,30.25],[96.64,31.8]]},
{"id":26,"lv":4,"p":[[97,32.4],[97.4,33.3],[98.7,34],[100,34.45],[100.76,35.35],[101.66,35.5],[102.3,35.1],[102.43,34.2],[102.17,33.2],[101.8,32.9],[101.14,33.2],[100.37,33.27],[99.8,31.8],[99.1,30.5],[98.2,29.1],[97.4,28.85],[97.3,29.86],[97,31.26]]},
{"id":27,"lv":5,"p":[[97.1,32.8],[97.54,33.56],[98.7,33.94],[100,34.14],[100.1,34.3],[100.63,35.1],[101.53,35.42],[102.17,34.97],[102.3,34.07],[102.04,33.05],[101.53,32.86],[101,33.24],[100.24,33.43],[99.8,33.1],[99.6,31.5],[98.96,30.75],[98.18,30.43],[97.4,31.26],[97.1,32]]},
{"id":28,"lv":6,"p":[[97.15,32.8],[97.54,33.5],[98.44,33.82],[99.47,33.88],[99.8,33.43],[99.66,32],[99.08,31.1],[98.44,30.75],[97.66,31.26],[97.28,31.9]]},
{"id":29,"lv":7,"p":[[97.35,32.8],[97.8,33.44],[98.7,33.75],[99.47,33.75],[99.6,33.05],[99.47,32],[98.96,31.26],[98.3,31],[97.8,31.4],[97.45,32]]},
{"id":30,"lv":8,"p":[[97.54,32.8],[98.05,33.37],[98.7,33.6],[99.35,33.2],[99.35,32.3],[98.83,31.64],[98.18,31.4],[97.72,31.9]]},
{"id":31,"lv":9,"p":[[97.62,32.92],[98.18,33.44],[98.76,33.24],[99,32.67],[98.76,32.1],[98.18,31.84],[97.72,32.2],[97.6,32.6]]},
{"id":32,"lv":10,"p":[[97.73,32.92],[98.18,33.28],[98.63,33.05],[98.7,32.6],[98.3,32.2],[97.93,32.4]]},
{"id":33,"lv":11,"p":[[97.86,32.92],[98.18,33.2],[98.5,32.92],[98.5,32.67],[98.18,32.54],[97.93,32.67]]},
{"id":34,"lv":12,"p":[[98.18,33.12],[98.4,32.9],[98.18,32.68],[97.96,32.9]]},
{"id":35,"lv":13,"p":[[98.18,33.04],[98.28,32.9],[98.18,32.76],[98.08,32.9]]},
{"id":36,"lv":6,"p":[[100.1,34.14],[100.63,34.9],[101.4,35.3],[102.04,35],[102.2,34.07],[102.04,33.18],[101.66,32.92],[101.14,33.37],[100.5,33.76]]},
{"id":37,"lv":7,"p":[[100.5,34.07],[100.88,34.7],[101.53,35.1],[102,34.7],[102.04,33.7],[102,33.18],[101.66,33],[101.2,33.56]]},
{"id":38,"lv":8,"p":[[100.95,34.07],[101.27,34.7],[101.66,34.78],[101.8,34.07],[101.9,33.44],[101.66,33.13],[101.2,33.56]]},
{"id":39,"lv":9,"p":[[101.14,33.75],[101.4,34],[101.66,33.8],[101.8,33.44],[101.53,33.18],[101.27,33.37]]},
{"id":40,"lv":10,"p":[[101.33,33.56],[101.53,33.7],[101.68,33.5],[101.53,33.27],[101.37,33.37]]},
{"id":41,"lv":1,"p":[[100.67,32.89],[100.79,32.77],[100.67,32.65],[100.55,32.77]]}]},
"vconcat":[
{"bounds":"flush","spacing":40,"hconcat":[
{"width":24,"height":378,"data":{"values":[{"v":0}]},"mark":{"type":"rect","opacity":0},"encoding":{}},
{"width":611,"height":319,"resolve":{"axis":{"x":"independent","y":"independent"}},"layer":[
{"data":{"name":"a"},"transform":[{"flatten":["p"]}],"mark":{"type":"line","interpolate":"cardinal-closed","filled":true,"clip":true,"order":false,"stroke":"#4a4a30"},"encoding":{"x":{"field":"p[0]","type":"quantitative","scale":{"domain":[80.08,103],"nice":false,"zero":false},"axis":{"orient":"bottom","zindex":1,"labelPadding":12,"values":[82,84,86,88,90,92,94,96,98,100,102],"labelExpr":"datum.value%4==2?datum.value+'°E':''"}},"y":{"field":"p[1]","type":"quantitative","scale":{"domain":[27.7,38.78],"nice":false,"zero":false},"axis":{"orient":"left","zindex":1,"values":[28,30,32,34,36,38],"labelExpr":"datum.value+'°N'"}},"detail":{"field":"id"},"fill":{"field":"lv","type":"ordinal","scale":{"domain":[0,1,2,3,4,5,6,7,8,9,10,11,12,13,14,15,16,17,18]},"legend":null},"strokeWidth":{"field":"lv","type":"quantitative","scale":{"type":"threshold","domain":[9],"range":[0,0.6]},"legend":null}}},
{"data":{"name":"mask"},"transform":[{"flatten":["p"]}],"mark":{"type":"line","interpolate":"linear-closed","filled":true,"fill":"white","clip":true,"order":false},"encoding":{"x":{"field":"p[0]","type":"quantitative","scale":{"domain":[80.08,103],"nice":false,"zero":false},"axis":{"orient":"top","zindex":1,"labels":false,"values":[82,84,86,88,90,92,94,96,98,100,102]}},"y":{"field":"p[1]","type":"quantitative","scale":{"domain":[27.7,38.78],"nice":false,"zero":false},"axis":{"orient":"right","zindex":1,"labels":false,"values":[28,30,32,34,36,38]}},"detail":{"field":"id"}}},
{"data":{"values":[{"a":81.09,"b":81.79},{"a":82.5,"b":83.21}]},"mark":{"type":"rect","fill":"white","stroke":"#555555","strokeWidth":0.5},"encoding":{"x":{"field":"a","type":"quantitative","scale":{"domain":[80.08,103],"nice":false,"zero":false},"axis":null},"x2":{"field":"b"},"y":{"datum":29.69,"type":"quantitative","scale":{"domain":[27.7,38.78],"nice":false,"zero":false},"axis":null},"y2":{"datum":29.31}}},
{"data":{"values":[{"a":80.38,"b":81.09},{"a":81.79,"b":82.5}]},"mark":{"type":"rect","fill":"black","stroke":"#555555","strokeWidth":0.5},"encoding":{"x":{"field":"a","type":"quantitative","scale":{"domain":[80.08,103],"nice":false,"zero":false},"axis":null},"x2":{"field":"b"},"y":{"datum":29.69,"type":"quantitative","scale":{"domain":[27.7,38.78],"nice":false,"zero":false},"axis":null},"y2":{"datum":29.31}}},
{"data":{"values":[{"t":"(a)","lon":83,"lat":37.77,"s":20},{"t":"2.5","lon":90.1,"lat":32.3,"s":20},{"t":"2.5","lon":94.56,"lat":33.2,"s":20},{"t":"0","lon":80.34,"lat":28.85,"s":19},{"t":"200 km","lon":83.25,"lat":28.85,"s":19}]},"mark":{"type":"text","font":"Liberation Serif","color":"#222222"},"encoding":{"x":{"field":"lon","type":"quantitative","scale":{"domain":[80.08,103],"nice":false,"zero":false},"axis":null},"y":{"field":"lat","type":"quantitative","scale":{"domain":[27.7,38.78],"nice":false,"zero":false},"axis":null},"text":{"field":"t"},"size":{"field":"s","type":"quantitative","scale":null}}}]},
{"width":27,"height":329,"data":{"name":"bands"},"mark":{"type":"rect","stroke":"#8a6a50","strokeWidth":0.4},"encoding":{"y":{"field":"lo","type":"quantitative","scale":{"domain":[0,9.5],"nice":false,"zero":false},"axis":{"orient":"right","values":[0,1,2,3,4,5,6,7,8,9],"domain":false,"ticks":false,"labelPadding":5}},"y2":{"field":"hi"},"fill":{"field":"lv","type":"ordinal","scale":{"domain":[0,1,2,3,4,5,6,7,8,9,10,11,12,13,14,15,16,17,18]},"legend":null}}}]},
{"bounds":"flush","spacing":37,"hconcat":[
{"width":35,"height":384,"data":{"values":[{"v":0}]},"mark":{"type":"rect","opacity":0},"encoding":{}},
{"width":605,"height":319,"resolve":{"axis":{"x":"independent","y":"independent"}},"layer":[
{"data":{"name":"b"},"transform":[{"flatten":["p"]}],"mark":{"type":"line","interpolate":"cardinal-closed","filled":true,"clip":true,"order":false,"stroke":"#4a4a30"},"encoding":{"x":{"field":"p[0]","type":"quantitative","scale":{"domain":[80.06,103],"nice":false,"zero":false},"axis":{"orient":"bottom","zindex":1,"labelPadding":12,"values":[82,84,86,88,90,92,94,96,98,100,102],"labelExpr":"datum.value%4==2?datum.value+'°E':''"}},"y":{"field":"p[1]","type":"quantitative","scale":{"domain":[27.72,38.76],"nice":false,"zero":false},"axis":{"orient":"left","zindex":1,"values":[28,30,32,34,36,38],"labelExpr":"datum.value+'°N'"}},"detail":{"field":"id"},"fill":{"field":"lv","type":"ordinal","scale":{"domain":[0,1,2,3,4,5,6,7,8,9,10,11,12,13,14,15,16,17,18]},"legend":null},"strokeWidth":{"field":"lv","type":"quantitative","scale":{"type":"threshold","domain":[9],"range":[0,0.6]},"legend":null}}},
{"data":{"name":"mask"},"transform":[{"flatten":["p"]}],"mark":{"type":"line","interpolate":"linear-closed","filled":true,"fill":"white","clip":true,"order":false},"encoding":{"x":{"field":"p[0]","type":"quantitative","scale":{"domain":[80.06,103],"nice":false,"zero":false},"axis":{"orient":"top","zindex":1,"labels":false,"values":[82,84,86,88,90,92,94,96,98,100,102]}},"y":{"field":"p[1]","type":"quantitative","scale":{"domain":[27.72,38.76],"nice":false,"zero":false},"axis":{"orient":"right","zindex":1,"labels":false,"values":[28,30,32,34,36,38]}},"detail":{"field":"id"}}},
{"data":{"values":[{"t":"(b)","lon":83,"lat":37.72},{"t":"7","lon":99.64,"lat":34.1}]},"mark":{"type":"text","font":"Liberation Serif","fontSize":20,"color":"#222222"},"encoding":{"x":{"field":"lon","type":"quantitative","scale":{"domain":[80.06,103],"nice":false,"zero":false},"axis":null},"y":{"field":"lat","type":"quantitative","scale":{"domain":[27.72,38.76],"nice":false,"zero":false},"axis":null},"text":{"field":"t"}}}]},
{"width":27,"height":319,"data":{"name":"bands"},"mark":{"type":"rect","stroke":"#8a6a50","strokeWidth":0.4},"encoding":{"y":{"field":"lo","type":"quantitative","scale":{"domain":[0,9.382],"nice":false,"zero":false},"axis":{"orient":"right","values":[0,1,2,3,4,5,6,7,8,9],"domain":false,"ticks":false,"labelPadding":5}},"y2":{"field":"hi"},"fill":{"field":"lv","type":"ordinal","scale":{"domain":[0,1,2,3,4,5,6,7,8,9,10,11,12,13,14,15,16,17,18]},"legend":null}}}]},
{"bounds":"flush","spacing":47,"hconcat":[
{"width":25,"height":344,"data":{"values":[{"v":0}]},"mark":{"type":"rect","opacity":0},"encoding":{}},
{"width":594,"height":289,"resolve":{"axis":{"x":"independent","y":"independent"}},"layer":[
{"data":{"name":"c"},"transform":[{"flatten":["p"]}],"mark":{"type":"line","interpolate":"cardinal-closed","filled":true,"clip":true,"order":false,"stroke":"#4a4a30"},"encoding":{"x":{"field":"p[0]","type":"quantitative","scale":{"domain":[80.05,103],"nice":false,"zero":false},"axis":{"orient":"bottom","zindex":1,"labelPadding":12,"values":[82,84,86,88,90,92,94,96,98,100,102],"labelExpr":"datum.value%4==2?datum.value+'°E':''"}},"y":{"field":"p[1]","type":"quantitative","scale":{"domain":[27.73,38.8],"nice":false,"zero":false},"axis":{"orient":"left","zindex":1,"values":[28,30,32,34,36,38],"labelExpr":"datum.value+'°N'"}},"detail":{"field":"id"},"fill":{"field":"lv","type":"ordinal","scale":{"domain":[0,1,2,3,4,5,6,7,8,9,10,11,12,13,14,15,16,17,18]},"legend":null},"strokeWidth":{"field":"lv","type":"quantitative","scale":{"type":"threshold","domain":[9],"range":[0,0.6]},"legend":null}}},
{"data":{"name":"mask"},"transform":[{"flatten":["p"]}],"mark":{"type":"line","interpolate":"linear-closed","filled":true,"fill":"white","clip":true,"order":false},"encoding":{"x":{"field":"p[0]","type":"quantitative","scale":{"domain":[80.05,103],"nice":false,"zero":false},"axis":{"orient":"top","zindex":1,"labels":false,"values":[82,84,86,88,90,92,94,96,98,100,102]}},"y":{"field":"p[1]","type":"quantitative","scale":{"domain":[27.73,38.8],"nice":false,"zero":false},"axis":{"orient":"right","zindex":1,"labels":false,"values":[28,30,32,34,36,38]}},"detail":{"field":"id"}}},
{"data":{"values":[{"t":"(c)","lon":82.9,"lat":37.74},{"t":"2.5","lon":89.72,"lat":32.55}]},"mark":{"type":"text","font":"Liberation Serif","fontSize":20,"color":"#222222"},"encoding":{"x":{"field":"lon","type":"quantitative","scale":{"domain":[80.05,103],"nice":false,"zero":false},"axis":null},"y":{"field":"lat","type":"quantitative","scale":{"domain":[27.73,38.8],"nice":false,"zero":false},"axis":null},"text":{"field":"t"}}}]},
{"width":27,"height":290,"data":{"name":"bands"},"mark":{"type":"rect","stroke":"#8a6a50","strokeWidth":0.4},"encoding":{"y":{"field":"lo","type":"quantitative","scale":{"domain":[0,9.434],"nice":false,"zero":false},"axis":{"orient":"right","values":[0,1,2,3,4,5,6,7,8,9],"domain":false,"ticks":false,"labelPadding":5}},"y2":{"field":"hi"},"fill":{"field":"lv","type":"ordinal","scale":{"domain":[0,1,2,3,4,5,6,7,8,9,10,11,12,13,14,15,16,17,18]},"legend":null}}}]},
{"bounds":"flush","spacing":42,"hconcat":[
{"width":36,"height":289,"data":{"values":[{"v":0}]},"mark":{"type":"rect","opacity":0},"encoding":{}},
{"width":593,"height":289,"resolve":{"axis":{"x":"independent","y":"independent"}},"layer":[
{"data":{"name":"d"},"transform":[{"flatten":["p"]}],"mark":{"type":"line","interpolate":"cardinal-closed","filled":true,"clip":true,"order":false,"stroke":"#4a4a30"},"encoding":{"x":{"field":"p[0]","type":"quantitative","scale":{"domain":[80.1,103],"nice":false,"zero":false},"axis":{"orient":"bottom","zindex":1,"labelPadding":12,"values":[82,84,86,88,90,92,94,96,98,100,102],"labelExpr":"datum.value%4==2?datum.value+'°E':''"}},"y":{"field":"p[1]","type":"quantitative","scale":{"domain":[27.74,38.8],"nice":false,"zero":false},"axis":{"orient":"left","zindex":1,"values":[28,30,32,34,36,38],"labelExpr":"datum.value+'°N'"}},"detail":{"field":"id"},"fill":{"field":"lv","type":"ordinal","scale":{"domain":[0,1,2,3,4,5,6,7,8,9,10,11,12,13,14,15,16,17,18]},"legend":null},"strokeWidth":{"field":"lv","type":"quantitative","scale":{"type":"threshold","domain":[9],"range":[0,0.6]},"legend":null}}},
{"data":{"name":"mask"},"transform":[{"flatten":["p"]}],"mark":{"type":"line","interpolate":"linear-closed","filled":true,"fill":"white","clip":true,"order":false},"encoding":{"x":{"field":"p[0]","type":"quantitative","scale":{"domain":[80.1,103],"nice":false,"zero":false},"axis":{"orient":"top","zindex":1,"labels":false,"values":[82,84,86,88,90,92,94,96,98,100,102]}},"y":{"field":"p[1]","type":"quantitative","scale":{"domain":[27.74,38.8],"nice":false,"zero":false},"axis":{"orient":"right","zindex":1,"labels":false,"values":[28,30,32,34,36,38]}},"detail":{"field":"id"}}},
{"data":{"values":[{"t":"(d)","lon":82.74,"lat":37.8},{"t":"2.5","lon":97.5,"lat":33.6}]},"mark":{"type":"text","font":"Liberation Serif","fontSize":20,"color":"#222222"},"encoding":{"x":{"field":"lon","type":"quantitative","scale":{"domain":[80.1,103],"nice":false,"zero":false},"axis":null},"y":{"field":"lat","type":"quantitative","scale":{"domain":[27.74,38.8],"nice":false,"zero":false},"axis":null},"text":{"field":"t"}}}]},
{"width":27,"height":295,"data":{"name":"bands"},"mark":{"type":"rect","stroke":"#8a6a50","strokeWidth":0.4},"encoding":{"y":{"field":"lo","type":"quantitative","scale":{"domain":[0,9.31],"nice":false,"zero":false},"axis":{"orient":"right","values":[0,1,2,3,4,5,6,7,8,9],"domain":false,"ticks":false,"labelPadding":5}},"y2":{"field":"hi"},"fill":{"field":"lv","type":"ordinal","scale":{"domain":[0,1,2,3,4,5,6,7,8,9,10,11,12,13,14,15,16,17,18]},"legend":null}}}]}
]}
